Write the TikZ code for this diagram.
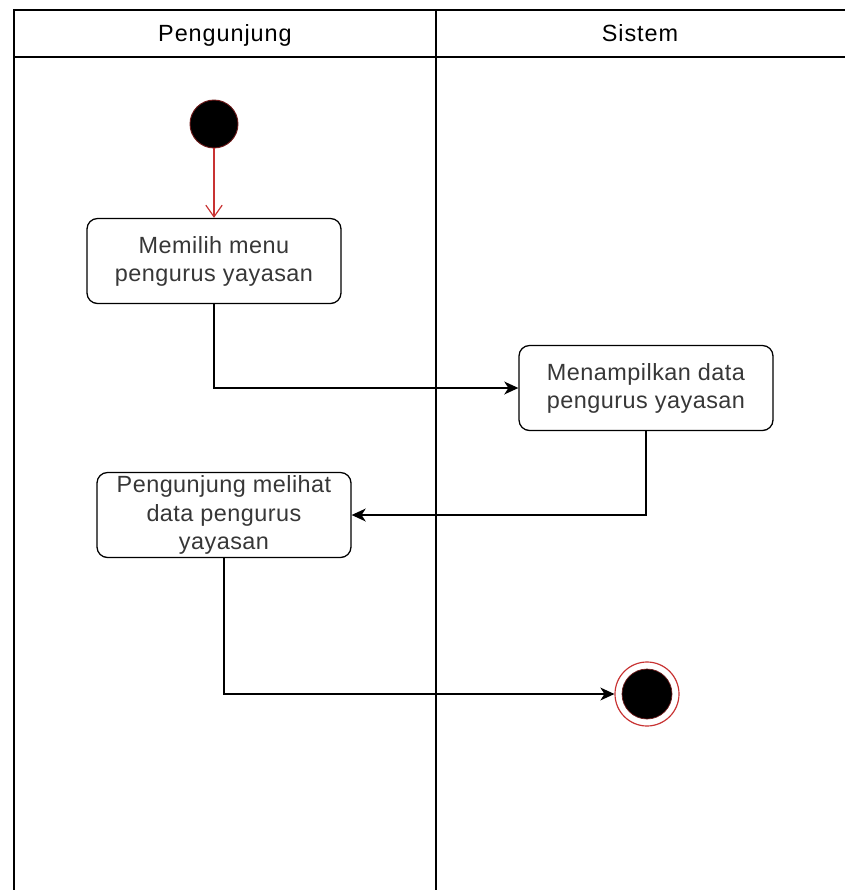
\documentclass[tikz,border=0pt]{standalone}
\usepackage{fontspec}
\setmainfont{Liberation Sans}
\usetikzlibrary{arrows.meta}
\definecolor{startred}{RGB}{200,50,50}
\definecolor{txtgray}{RGB}{55,55,55}

\begin{document}
\begin{tikzpicture}[x=0.03cm,y=-0.03cm,
  lane/.style={line width=1.6pt},
  lanehead/.style={anchor=base,
    font=\fontsize{20}{22}\selectfont\addfontfeature{LetterSpace=4}},
  act/.style={draw,line width=1.1pt,rounded corners=9pt,minimum width=7.62cm,
    minimum height=2.55cm,inner sep=0pt,align=center,text=txtgray,
    font=\fontsize{20}{24}\selectfont\addfontfeature{LetterSpace=2}},
  startnode/.style={circle,fill=black,draw=startred!55!black,line width=0.8pt,
    minimum size=1.44cm,inner sep=0pt},
  endouter/.style={circle,fill=white,draw=startred,line width=1pt,
    minimum size=1.92cm,inner sep=0pt},
  endinner/.style={circle,fill=black,draw=startred!55!black,line width=0.6pt,
    minimum size=1.5cm,inner sep=0pt},
  flow/.style={line width=1.1pt,-{Stealth[length=12pt,width=11pt,inset=3.5pt]}}]
  \useasboundingbox (0,0) rectangle (845,890);
  % Swimlanes
  \draw[lane] (845,10) -- (14,10) -- (14,890);
  \draw[lane] (14,57) -- (845,57);
  \draw[lane] (436,10) -- (436,890);
  \node[lanehead] (hpeng) at (225,41) {Pengunjung};
  \node[lanehead] (hsis) at (640,41) {Sistem};
  % Activities
  \node[startnode] (start) at (214,124) {};
  \node[act] (pilih) at (214,261) {Memilih menu\\pengurus yayasan};
  \node[act] (tampil) at (646,388) {Menampilkan data\\pengurus yayasan};
  \node[act] (lihat) at (224,515) {Pengunjung melihat\\data pengurus\\yayasan};
  \node[endouter] (end) at (647,694) {};
  \node[endinner] (endin) at (end) {};
  % Flows
  \draw[startred,line width=1pt,-{Straight Barb[length=10pt,width=14pt]}] (start) -- (pilih);
  \draw[flow] (pilih) |- (tampil);
  \draw[flow] (tampil) |- (lihat);
  \draw[flow] (lihat) |- (end);
\end{tikzpicture}
\end{document}
